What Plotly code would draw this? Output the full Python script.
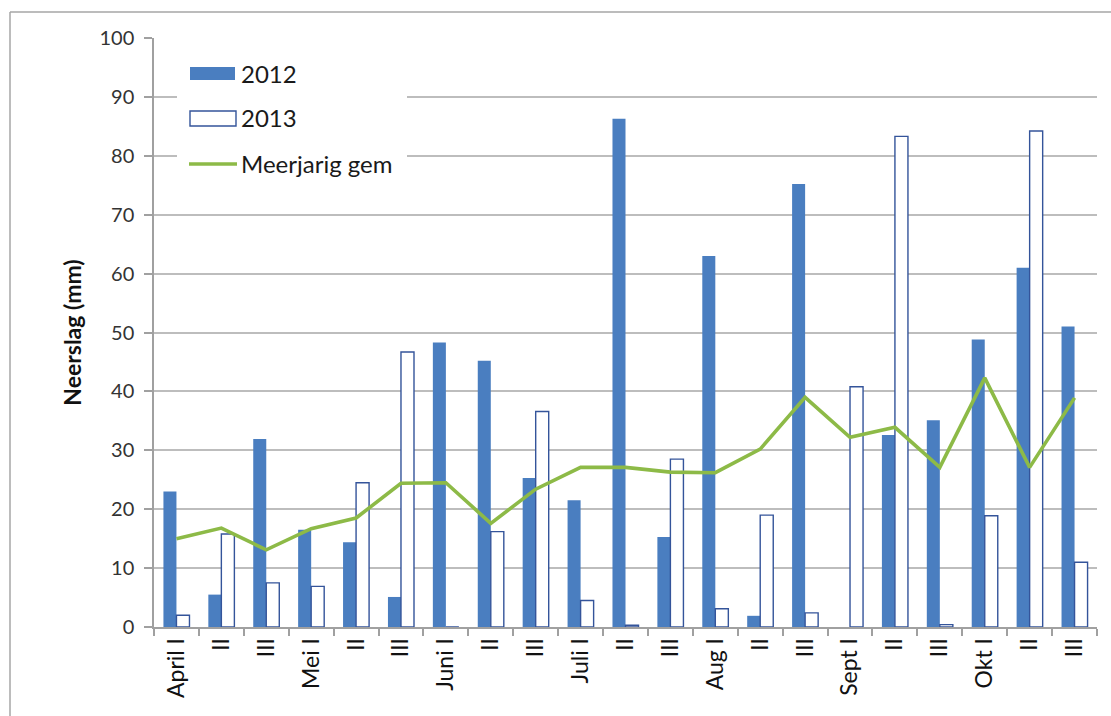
import plotly.graph_objects as go

# Decade periods (dekaden) April - October
tick_labels = ["April I", "II", "III", "Mei I", "II", "III", "Juni I", "II", "III",
               "Juli I", "II", "III", "Aug I", "II", "III",
               "Sept I", "II", "III", "Okt I", "II", "III"]

rain_2012 = [23.0, 5.5, 31.9, 16.5, 14.4, 5.1, 48.3, 45.2, 25.3,
             21.5, 86.3, 15.3, 63.0, 1.9, 75.2,
             0.0, 32.6, 35.1, 48.8, 61.0, 51.0]

rain_2013 = [2.0, 15.8, 7.5, 6.9, 24.5, 46.7, 0.0, 16.2, 36.6,
             4.5, 0.3, 28.5, 3.1, 19.0, 2.4,
             40.8, 83.3, 0.4, 18.9, 84.2, 11.0]

long_term_mean = [15.0, 16.8, 13.1, 16.7, 18.5, 24.4, 24.5, 17.6, 23.4,
                  27.1, 27.1, 26.3, 26.2, 30.2, 39.0,
                  32.2, 33.9, 27.1, 42.3, 27.1, 38.9]

y_ticks = [0, 10, 20, 30, 40, 50, 60, 70, 80, 90, 100]

# unique category keys (labels repeat per month); zero-width prefixes keep text unchanged
categories = ["\u200b" * i + lab for i, lab in enumerate(tick_labels)]

BLUE = "#4A7EC0"
OUTLINE = "#34549A"
GREEN = "#8DBA47"
GRID = "#BDBDBD"
FONT = "Lato"

fig = go.Figure()
fig.add_trace(go.Bar(x=categories, y=rain_2012, name="2012",
                     marker=dict(color=BLUE, line=dict(width=0))))
fig.add_trace(go.Bar(x=categories, y=rain_2013, name="2013",
                     marker=dict(color="white", line=dict(color=OUTLINE, width=1.4))))
fig.add_trace(go.Scatter(x=categories, y=long_term_mean, name="Meerjarig gem",
                         mode="lines", line=dict(color=GREEN, width=3.6)))

# plot area in pixels: x 154..1097, y 38..627
W, H = 1111, 716
L, R, T, B = 154, 14, 38, 89
PW, PH = W - L - R, H - T - B


def px(x):
    return (x - L) / PW


def py(y):
    return (H - B - y) / PH


shapes = [
    # outer chart frame (left and top edges)
    dict(type="line", xref="paper", yref="paper", x0=px(10), x1=px(10), y0=py(12), y1=py(730),
         line=dict(color="#A6A6A6", width=1.5)),
    dict(type="line", xref="paper", yref="paper", x0=px(10), x1=px(1115), y0=py(12), y1=py(12),
         line=dict(color="#A6A6A6", width=1.5)),
    # legend box background
    dict(type="rect", xref="paper", yref="paper", x0=px(177), x1=px(407), y0=py(48), y1=py(186),
         fillcolor="white", line=dict(width=0), layer="above"),
    dict(type="rect", xref="paper", yref="paper", x0=px(190), x1=px(235), y0=py(67), y1=py(80),
         fillcolor=BLUE, line=dict(width=0), layer="above"),
    dict(type="rect", xref="paper", yref="paper", x0=px(190), x1=px(236), y0=py(111), y1=py(126),
         fillcolor="white", line=dict(color=OUTLINE, width=1.4), layer="above"),
    dict(type="line", xref="paper", yref="paper", x0=px(189), x1=px(237), y0=py(164), y1=py(164),
         line=dict(color=GREEN, width=3.6), layer="above"),
]

annotations = []
for label, yc in [("2012", 73), ("2013", 118), ("Meerjarig gem", 163)]:
    annotations.append(dict(text=label, xref="paper", yref="paper", x=px(239), y=py(yc),
                            xanchor="left", yanchor="middle", showarrow=False,
                            font=dict(family=FONT, size=24, color="#1A1A1A")))

fig.update_layout(
    width=W, height=H,
    margin=dict(l=L, r=R, t=T, b=B, pad=0),
    paper_bgcolor="white", plot_bgcolor="white",
    barmode="group", bargap=0.42, bargroupgap=0,
    showlegend=False,
    shapes=shapes, annotations=annotations,
    font=dict(family=FONT, color="#262626"),
)

fig.update_xaxes(
    type="category", tickangle=-90, tickson="boundaries",
    ticks="outside", ticklen=7, tickcolor="#A0A0A0", tickwidth=1.5,
    showline=True, linecolor="#A0A0A0", linewidth=1.5,
    showgrid=False, tickfont=dict(family=FONT, size=23, color="#111111"),
)
fig.update_yaxes(
    range=[0, 100], tickvals=y_ticks,
    ticks="outside", ticklen=8, tickcolor="#A0A0A0", tickwidth=1.5,
    showline=True, linecolor="#A0A0A0", linewidth=1.5,
    showgrid=True, gridcolor=GRID, gridwidth=1.5, zeroline=False,
    tickfont=dict(family=FONT, size=20, color="#333333"), ticklabelstandoff=6,
    title=dict(text="<b>Neerslag (mm)</b>", standoff=11,
               font=dict(family=FONT, size=23, color="#111111")),
)

fig.write_html("out.html")
